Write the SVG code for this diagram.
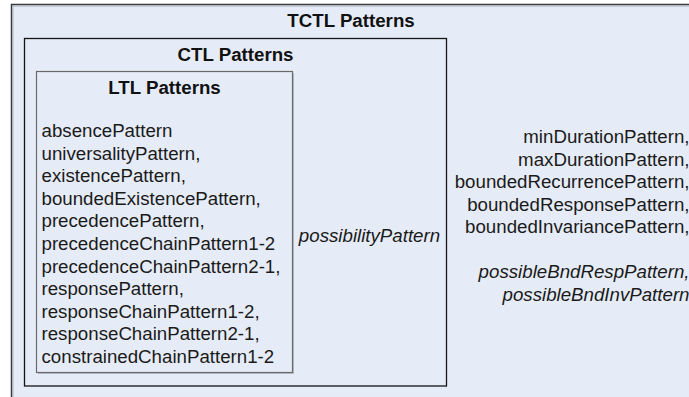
<svg xmlns="http://www.w3.org/2000/svg" width="689" height="397" viewBox="0 0 689 397">
<style>
.box{fill:#E6ECF7}
.title{font-family:"Liberation Sans",Arial,sans-serif;font-size:18.7px;font-weight:bold;fill:#111;text-anchor:middle}
.body{font-family:"Liberation Sans",Arial,sans-serif;font-size:18.7px;fill:#1a1a1a}
.it{font-style:italic}
</style>
<rect width="689" height="397" fill="#ffffff"/>
<g id="tctl">
<rect x="11.5" y="4.5" width="690" height="400" class="box" stroke="#3a3a3a" stroke-width="1.5"/>
<line x1="13" y1="6" x2="13" y2="397" stroke="#aab0ba" stroke-width="1"/>
<line x1="13" y1="6" x2="689" y2="6" stroke="#aab0ba" stroke-width="1"/>
<text x="351" y="27" class="title">TCTL Patterns</text>
<g class="body" text-anchor="end">
<text x="689.5" y="143">minDurationPattern,</text>
<text x="689.5" y="165.5">maxDurationPattern,</text>
<text x="689.5" y="188">boundedRecurrencePattern,</text>
<text x="689.5" y="210.5">boundedResponsePattern,</text>
<text x="689.5" y="233">boundedInvariancePattern,</text>
<text x="689.5" y="278" class="it">possibleBndRespPattern,</text>
<text x="689.5" y="300.5" class="it">possibleBndInvPattern</text>
</g>
</g>
<g id="ctl">
<rect x="24.5" y="38.5" width="422" height="347.5" class="box" stroke="#151515" stroke-width="1.3"/>
<text x="235.5" y="61" class="title">CTL Patterns</text>
<text x="369.5" y="242" class="body it" text-anchor="middle">possibilityPattern</text>
</g>
<g id="ltl">
<rect x="38" y="73" width="256" height="301" fill="#b9bec8"/>
<rect x="36.5" y="71.5" width="256" height="301" class="box" stroke="#6a6a6a" stroke-width="1.2"/>
<text x="164.5" y="93.5" class="title">LTL Patterns</text>
<g class="body">
<text x="41.5" y="137">absencePattern</text>
<text x="41.5" y="159.6">universalityPattern,</text>
<text x="41.5" y="182.2">existencePattern,</text>
<text x="41.5" y="204.8">boundedExistencePattern,</text>
<text x="41.5" y="227.4">precedencePattern,</text>
<text x="41.5" y="250">precedenceChainPattern1-2</text>
<text x="41.5" y="272.6">precedenceChainPattern2-1,</text>
<text x="41.5" y="295.2">responsePattern,</text>
<text x="41.5" y="317.8">responseChainPattern1-2,</text>
<text x="41.5" y="340.4">responseChainPattern2-1,</text>
<text x="41.5" y="363">constrainedChainPattern1-2</text>
</g>
</g>
<g id="connectors"></g>
</svg>
